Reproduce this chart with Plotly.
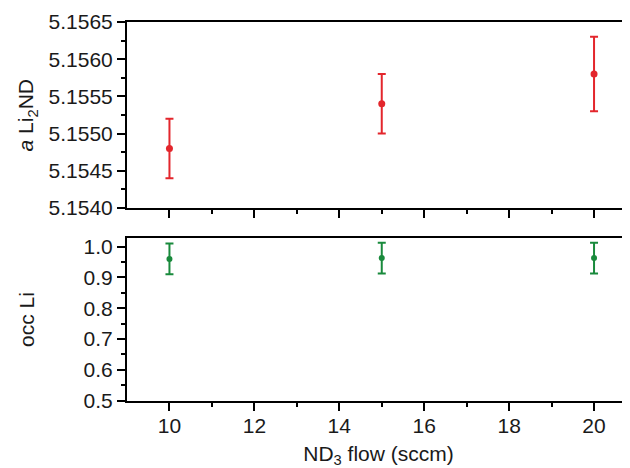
import plotly.graph_objects as go

flow = [10, 15, 20]
a_li2nd = [5.1548, 5.1554, 5.1558]
a_err = [0.0004, 0.0004, 0.0005]
occ_li = [0.96, 0.963, 0.963]
occ_err = [0.05, 0.05, 0.05]

RED = "#e3262c"
GREEN = "#198a3c"
FONT = "Liberation Sans, Arial, sans-serif"
FS = 21
TXT = "#1a1a1a"

fig = go.Figure()
fig.add_trace(go.Scatter(
    x=flow, y=a_li2nd, mode="markers",
    marker=dict(color=RED, size=7),
    error_y=dict(type="data", array=a_err, color=RED, thickness=2, width=4),
    xaxis="x", yaxis="y", showlegend=False))
fig.add_trace(go.Scatter(
    x=flow, y=occ_li, mode="markers",
    marker=dict(color=GREEN, size=6),
    error_y=dict(type="data", array=occ_err, color=GREEN, thickness=2, width=4),
    xaxis="x2", yaxis="y2", showlegend=False))

minor_style = dict(ticks="outside", ticklen=4, tickwidth=2, tickcolor="black")
axis_common = dict(showline=True, linecolor="black", linewidth=2, showgrid=False,
                   zeroline=False, ticks="outside", ticklen=8, tickwidth=2,
                   tickcolor="black", tickfont=dict(family=FONT, size=FS, color=TXT))
xr = [9, 20.847]
top_dom = [0.5652, 0.9696]
bot_dom = [0.1463, 0.4993]
fig.update_layout(
    width=622, height=460,
    margin=dict(l=118.5, r=0, t=0, b=0, autoexpand=False),
    plot_bgcolor="white", paper_bgcolor="white",
    font=dict(family=FONT, size=FS, color=TXT),
    xaxis=dict(**axis_common, domain=[0, 1], range=xr, anchor="y", mirror=True,
               tickmode="array", tickvals=[10, 12, 14, 16, 18, 20], showticklabels=False,
               minor=dict(**minor_style, tickvals=[11, 13, 15, 17, 19])),
    yaxis=dict(**axis_common, domain=top_dom, range=[5.1540, 5.1565], anchor="x",
               tickmode="array", tickvals=[5.1540, 5.1545, 5.1550, 5.1555, 5.1560, 5.1565],
               ticktext=["5.1540", "5.1545", "5.1550", "5.1555", "5.1560", "5.1565"],
               minor=dict(**minor_style, tickvals=[5.15425, 5.15475, 5.15525, 5.15575, 5.15625])),
    xaxis2=dict(**axis_common, domain=[0, 1], range=xr, anchor="y2", mirror=True,
                tickmode="array", tickvals=[10, 12, 14, 16, 18, 20], ticklabelstandoff=-3,
                title=dict(text="ND<sub>3</sub> flow (sccm)", font=dict(family=FONT, size=FS, color=TXT), standoff=12),
                minor=dict(**minor_style, tickvals=[11, 13, 15, 17, 19])),
    yaxis2=dict(**axis_common, domain=bot_dom, range=[0.5, 1.027], anchor="x2",
                tickmode="array", tickvals=[0.5, 0.6, 0.7, 0.8, 0.9, 1.0],
                ticktext=["0.5", "0.6", "0.7", "0.8", "0.9", "1.0"],
                minor=dict(**minor_style, tickvals=[0.55, 0.65, 0.75, 0.85, 0.95])),
)

fig.add_annotation(text="<i>a</i> Li<sub>2</sub>ND", xref="paper", yref="paper",
                   x=-0.198, y=(top_dom[0] + top_dom[1]) / 2, xanchor="center", yanchor="middle",
                   textangle=-90, showarrow=False, font=dict(family=FONT, size=FS, color=TXT))
fig.add_annotation(text="occ Li", xref="paper", yref="paper",
                   x=-0.2, y=(bot_dom[0] + bot_dom[1]) / 2, xanchor="center", yanchor="middle",
                   textangle=-90, showarrow=False, font=dict(family=FONT, size=FS, color=TXT))

fig.write_html("out.html")
